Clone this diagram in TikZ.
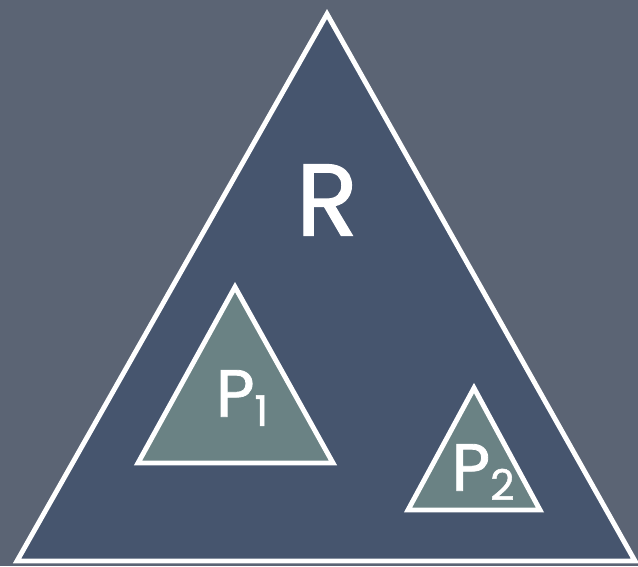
\documentclass[tikz,border=0pt]{standalone}
\usepackage{fontspec}
\setmainfont{Poppins}[FakeBold=1.2]
\usetikzlibrary{positioning}
\definecolor{slate}{HTML}{5B6474}
\definecolor{navy}{HTML}{46556E}
\definecolor{teal}{HTML}{6A8284}

\begin{document}
\begin{tikzpicture}[x=0.02cm,y=-0.02cm,
 tri/.style={draw=white,line width=2.8pt,line join=miter},
 lab/.style={text=white,inner sep=0pt}]
\fill[slate] (0,0) rectangle (638,566);
\useasboundingbox (0,0) rectangle (638,566);
% big region
\coordinate (rtop) at (327,14);
\coordinate (rleft) at (17,561);
\coordinate (rright) at (635,561);
\draw[tri,fill=navy] (rtop)--(rleft)--(rright)--cycle;
% small ones
\coordinate (p1top) at (235,287);
\coordinate (p1left) at (138,463);
\coordinate (p1right) at (333,463);
\draw[tri,fill=teal] (p1top)--(p1left)--(p1right)--cycle;
\coordinate (p2top) at (474,388);
\coordinate (p2left) at (408,510);
\coordinate (p2right) at (540,510);
\draw[tri,fill=teal] (p2top)--(p2left)--(p2right)--cycle;
\node[lab] (r) at (327,200) {\fontsize{58}{58}\selectfont R};
\node[lab] (p1) at (242,398) {\fontsize{38}{38}\selectfont P\raisebox{-0.25ex}{\fontsize{24}{24}\selectfont 1}};
\node[lab] (p2) at (483,472) {\fontsize{38}{38}\selectfont P\raisebox{-0.25ex}{\fontsize{24}{24}\selectfont 2}};
\end{tikzpicture}
\end{document}
